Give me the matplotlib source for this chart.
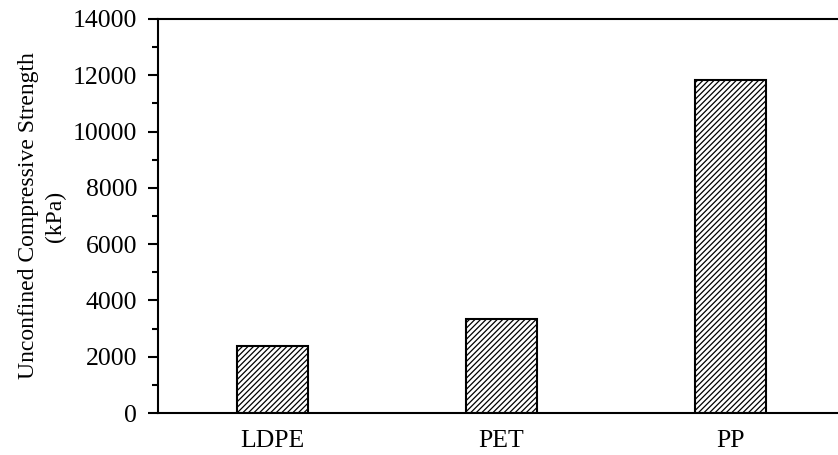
import numpy as np
import matplotlib
matplotlib.use('Agg')
import matplotlib.pyplot as plt
from matplotlib.ticker import MultipleLocator

# data
materials = ['LDPE', 'PET', 'PP']
ucs_kpa = [2380, 3350, 11830]

plt.rcParams['font.family'] = ['Liberation Serif', 'DejaVu Serif']
plt.rcParams['hatch.linewidth'] = 0.9
plt.rcParams['hatch.color'] = 'black'

fig = plt.figure(figsize=(8.38, 4.55), dpi=100)
ax = fig.add_axes([158/838, 1 - 413/455, 680/838, 394/455])

x = np.arange(len(materials))
ax.bar(x, ucs_kpa, width=0.31, color='white', edgecolor='black',
       linewidth=1.5, hatch='//////')

ax.set_xlim(-0.5, 2.47)
ax.set_ylim(0, 14000)
ax.set_xticks(x)
ax.set_xticklabels(materials, fontsize=18.5)
ax.tick_params(axis='x', length=0, pad=12)
ax.yaxis.set_major_locator(MultipleLocator(2000))
ax.yaxis.set_minor_locator(MultipleLocator(1000))
ax.tick_params(axis='y', which='major', direction='out', length=7, width=1.5,
               labelsize=18.5, pad=8)
ax.tick_params(axis='y', which='minor', direction='out', length=4, width=1.5)
for s in ['left', 'bottom', 'top']:
    ax.spines[s].set_linewidth(1.5)
ax.spines['right'].set_visible(False)

ax.set_ylabel('Unconfined Compressive Strength\n(kPa)', fontsize=17,
              linespacing=1.35, labelpad=5)

fig.savefig('out.png', dpi=100)
